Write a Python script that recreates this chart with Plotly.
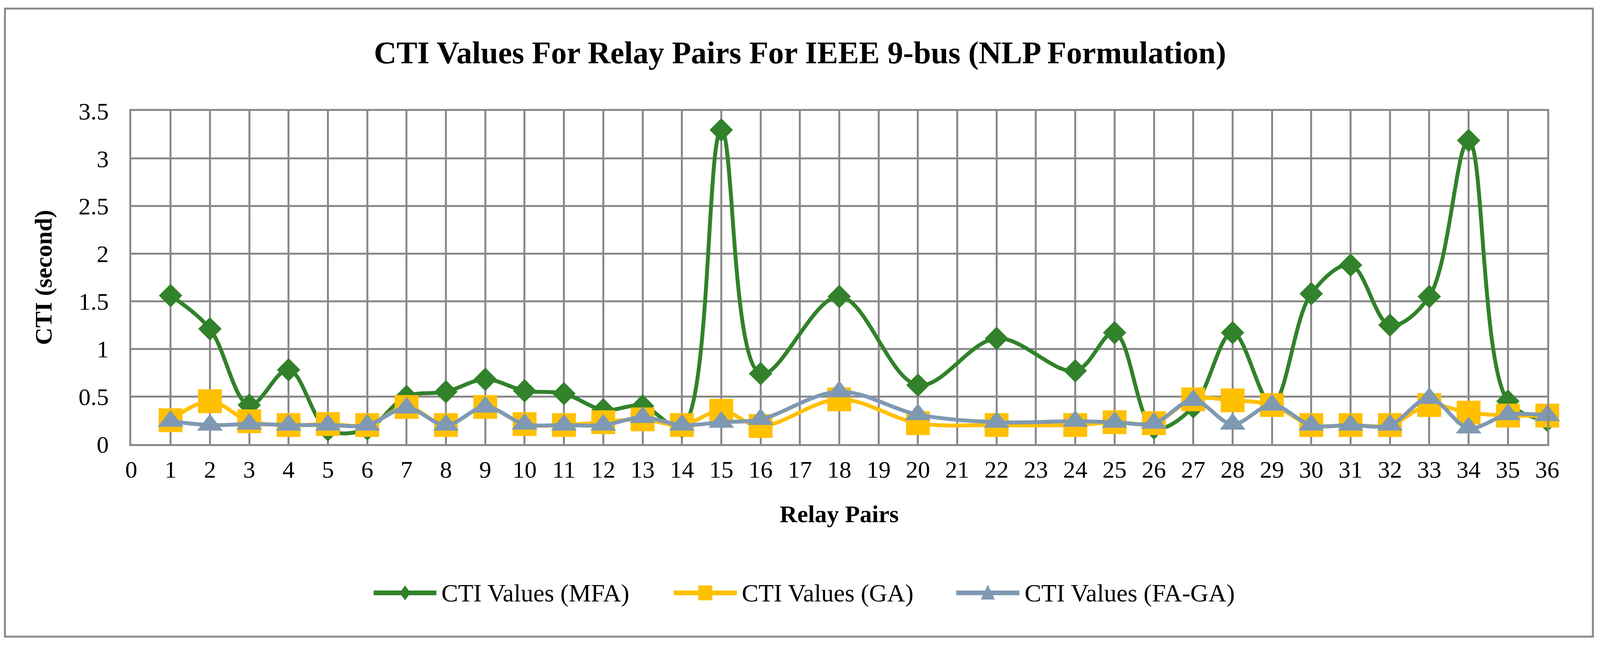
import plotly.graph_objects as go

# ---------------- data ----------------
relay_pairs = [1, 2, 3, 4, 5, 6, 7, 8, 9, 10, 11, 12, 13, 14, 15, 16,
               18, 20, 22, 24, 25, 26, 27, 28, 29, 30, 31, 32, 33, 34, 35, 36]

cti_mfa = [1.56, 1.21, 0.41, 0.78, 0.15, 0.16, 0.50, 0.55, 0.68, 0.56, 0.53, 0.36, 0.40, 0.18, 3.30, 0.74,
           1.55, 0.62, 1.11, 0.77, 1.17, 0.17, 0.39, 1.17, 0.42, 1.58, 1.88, 1.25, 1.55, 3.19, 0.45, 0.25]

cti_ga = [0.25, 0.45, 0.24, 0.20, 0.21, 0.20, 0.39, 0.20, 0.39, 0.21, 0.20, 0.23, 0.26, 0.20, 0.35, 0.19,
          0.47, 0.22, 0.20, 0.20, 0.23, 0.22, 0.47, 0.46, 0.41, 0.20, 0.20, 0.20, 0.41, 0.33, 0.30, 0.30]

cti_fage = [0.24, 0.20, 0.21, 0.20, 0.20, 0.20, 0.38, 0.20, 0.39, 0.21, 0.20, 0.20, 0.28, 0.20, 0.23, 0.26,
            0.55, 0.31, 0.23, 0.24, 0.23, 0.22, 0.46, 0.21, 0.41, 0.20, 0.20, 0.20, 0.48, 0.17, 0.31, 0.30]

series_names = ["CTI Values (MFA)", "CTI Values (GA)", "CTI Values (FA-GA)"]
x_tick_values = list(range(0, 37))
y_tick_values = [0, 0.5, 1, 1.5, 2, 2.5, 3, 3.5]

title_text = "CTI Values For Relay Pairs For IEEE 9-bus (NLP Formulation)"
x_title = "Relay Pairs"
y_title = "CTI (second)"

# ---------------- style ----------------
GREEN = "#31822A"
YELLOW = "#FFC000"
GRAYBLUE = "#7F99B3"
GRID = "#898989"
FONT = "Liberation Serif"

# page viewport is 4096 CSS px wide; horizontal layout is scaled from the 4382-px reference
REF_W = 4382
W, H = 4096, 1654
K = W / REF_W
L, R, T, B = 359 * K, 4238 * K, 284, 1137
PW, PH = R - L, B - T


def px(xref_pix):
    return (xref_pix * K - L) / PW


def py(ypix):
    return (B - ypix) / PH


fig = go.Figure()

styles = [
    (cti_mfa, GREEN, "diamond", 46),
    (cti_ga, YELLOW, "square", 61),
    (cti_fage, GRAYBLUE, "triangle-up", 57),
]
for name, (vals, col, sym, size) in zip(series_names, styles):
    fig.add_trace(go.Scatter(
        x=relay_pairs, y=vals, name=name, mode="lines+markers",
        line=dict(color=col, width=10, shape="spline", smoothing=1.0),
        marker=dict(symbol=sym, size=size, color=col, line=dict(width=0)),
        cliponaxis=False, showlegend=False,
    ))

# ---------------- custom legend (Excel-like swatches) ----------------
legend_y = py(1518)
legend_items = [
    (1023, 1195, 1207, GREEN, "M -14,0 L 0,19 L 14,0 L 0,-19 Z"),
    (1845, 2018, 2029, YELLOW, "M -18,-19 L 18,-19 L 18,19 L -18,19 Z"),
    (2619, 2792, 2804, GRAYBLUE, "M -18,-17 L 18,-17 L 0,21 Z"),
]
shapes = []
annotations = []
for name, (x0, x1, tx, col, path) in zip(series_names, legend_items):
    shapes.append(dict(type="line", xref="paper", yref="paper",
                       x0=px(x0), x1=px(x1), y0=legend_y, y1=legend_y,
                       line=dict(color=col, width=12), layer="above"))
    shapes.append(dict(type="path", xref="paper", yref="paper",
                       xsizemode="pixel", ysizemode="pixel",
                       xanchor=px((x0 + x1) / 2), yanchor=legend_y,
                       path=path, fillcolor=col, line=dict(width=0), layer="above"))
    annotations.append(dict(xref="paper", yref="paper", x=px(tx), y=legend_y,
                            xanchor="left", yanchor="middle", showarrow=False,
                            text=name, font=dict(family=FONT, size=64, color="black")))

# outer chart border
shapes.append(dict(type="rect", xref="paper", yref="paper",
                   x0=px(13), x1=px(4363), y0=py(1630), y1=py(22),
                   line=dict(color=GRID, width=5), fillcolor="rgba(0,0,0,0)", layer="below"))

fig.update_layout(
    width=W, height=H,
    margin=dict(l=L, r=W - R, t=T, b=H - B, pad=0),
    paper_bgcolor="white", plot_bgcolor="white",
    font=dict(family=FONT, size=62, color="black"),
    title=dict(text="<b>" + title_text + "</b>", x=0.5, xref="container", xanchor="center",
               y=1 - 134 / H, yref="container", yanchor="middle",
               font=dict(family=FONT, size=80, color="black")),
    showlegend=False,
    shapes=shapes,
    annotations=annotations,
)

fig.update_xaxes(
    range=[0, 36], tickmode="array", tickvals=x_tick_values,
    ticktext=[str(v) for v in x_tick_values],
    showgrid=True, gridcolor=GRID, gridwidth=5,
    showline=True, linecolor=GRID, linewidth=5, mirror=True,
    zeroline=False, ticks="", ticklabelstandoff=7,
    tickfont=dict(family=FONT, size=62, color="black"),
    title=dict(text="<b>" + x_title + "</b>", standoff=60,
               font=dict(family=FONT, size=62, color="black")),
)
fig.update_yaxes(
    range=[0, 3.5], tickmode="array", tickvals=y_tick_values,
    ticktext=[f"{v:g}" for v in y_tick_values],
    showgrid=True, gridcolor=GRID, gridwidth=5,
    showline=True, linecolor=GRID, linewidth=5, mirror=True,
    zeroline=False, ticks="", ticklabelstandoff=40,
    tickfont=dict(family=FONT, size=62, color="black"),
    title=dict(text="<b>" + y_title + "</b>", standoff=50,
               font=dict(family=FONT, size=62, color="black")),
)

fig.write_html("out.html", config={"displayModeBar": False},
               post_script="document.body.style.margin='0';")
